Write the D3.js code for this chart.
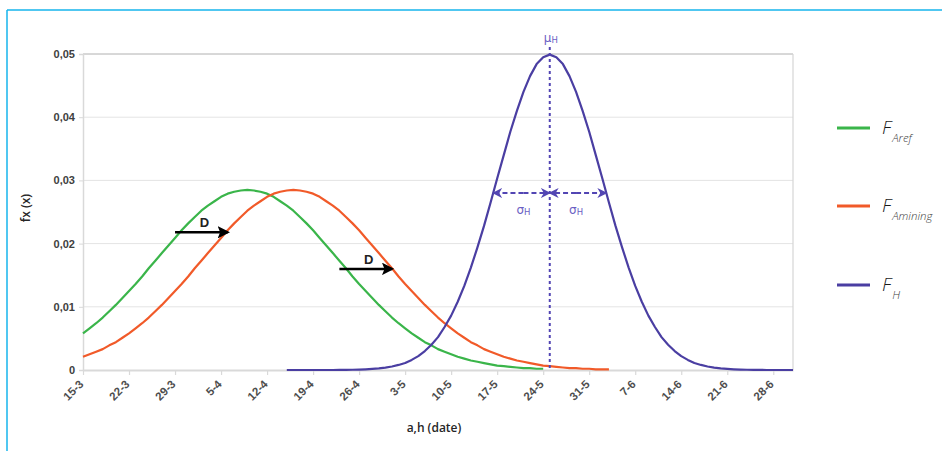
<!DOCTYPE html>
<html>
<head>
<meta charset="utf-8">
<script src="https://cdn.jsdelivr.net/npm/d3@7"></script>
<style>
  html, body { margin: 0; padding: 0; background: #fff; }
  svg { display: block; }
</style>
</head>
<body>
<svg id="chart" width="942" height="451"></svg>
<script>
// ---------- DATA ----------
const categories = [
  "15-3","16-3","17-3","18-3","19-3","20-3","21-3","22-3","23-3","24-3","25-3","26-3","27-3","28-3","29-3","30-3","31-3",
  "1-4","2-4","3-4","4-4","5-4","6-4","7-4","8-4","9-4","10-4","11-4","12-4","13-4","14-4","15-4","16-4","17-4","18-4","19-4","20-4",
  "21-4","22-4","23-4","24-4","25-4","26-4","27-4","28-4","29-4","30-4",
  "1-5","2-5","3-5","4-5","5-5","6-5","7-5","8-5","9-5","10-5","11-5","12-5","13-5","14-5","15-5","16-5","17-5","18-5","19-5","20-5",
  "21-5","22-5","23-5","24-5","25-5","26-5","27-5","28-5","29-5","30-5","31-5",
  "1-6","2-6","3-6","4-6","5-6","6-6","7-6","8-6","9-6","10-6","11-6","12-6","13-6","14-6","15-6","16-6","17-6","18-6","19-6","20-6",
  "21-6","22-6","23-6","24-6","25-6","26-6","27-6","28-6","29-6","30-6","1-7"
];
const tickLabels = ["15-3","22-3","29-3","5-4","12-4","19-4","26-4","3-5","10-5","17-5","24-5","31-5","7-6","14-6","21-6","28-6"];
const yTicks = [0, 0.01, 0.02, 0.03, 0.04, 0.05];

// F_Aref : starts at 15-3
const arefStart = "15-3";
const arefValues = [
  0.0058,0.0066,0.0074,0.0083,0.0093,0.0103,0.0114,0.0125,0.0136,0.0148,
  0.0161,0.0173,0.0185,0.0197,0.0209,0.0221,0.0232,0.0242,0.0252,0.0260,
  0.0267,0.0274,0.0279,0.0282,0.0284,0.0285,0.0284,0.0282,0.0279,0.0274,
  0.0267,0.0260,0.0252,0.0242,0.0232,0.0221,0.0209,0.0197,0.0185,0.0173,
  0.0161,0.0148,0.0136,0.0125,0.0114,0.0103,0.0093,0.0083,0.0074,0.0066,
  0.0058,0.0051,0.0044,0.0039,0.0033,0.0029,0.0025,0.0021,0.0018,0.0015,
  0.0013,0.0011,0.0009,0.0007,0.0006,0.0005,0.0004,0.0003,0.0003,0.0002,
  0.0002
];
// F_Amining : starts at 15-3
const aminingStart = "15-3";
const aminingValues = [
  0.0021,0.0025,0.0029,0.0033,0.0039,0.0044,0.0051,0.0058,0.0066,0.0074,
  0.0083,0.0093,0.0103,0.0114,0.0125,0.0136,0.0148,0.0161,0.0173,0.0185,
  0.0197,0.0209,0.0221,0.0232,0.0242,0.0252,0.0260,0.0267,0.0274,0.0279,
  0.0282,0.0284,0.0285,0.0284,0.0282,0.0279,0.0274,0.0267,0.0260,0.0252,
  0.0242,0.0232,0.0221,0.0209,0.0197,0.0185,0.0173,0.0161,0.0148,0.0136,
  0.0125,0.0114,0.0103,0.0093,0.0083,0.0074,0.0066,0.0058,0.0051,0.0044,
  0.0039,0.0033,0.0029,0.0025,0.0021,0.0018,0.0015,0.0013,0.0011,0.0009,
  0.0007,0.0006,0.0005,0.0004,0.0003,0.0003,0.0002,0.0002,0.0001,0.0001,
  0.0001
];
// F_H : starts at 15-4
const hStart = "15-4";
const hValues = [
  0,0,0,0,0,0,0,0,0.00001,0.00002,
  0.00004,0.00007,0.00011,0.00017,0.00025,0.00038,0.00055,0.0008,0.0011,0.0016,
  0.0022,0.0030,0.0040,0.0052,0.0068,0.0086,0.0108,0.0133,0.0162,0.0194,
  0.0228,0.0265,0.0303,0.0340,0.0377,0.0410,0.0440,0.0465,0.0484,0.0495,
  0.0499,0.0495,0.0484,0.0465,0.0440,0.0410,0.0377,0.0340,0.0303,0.0265,
  0.0228,0.0194,0.0162,0.0133,0.0108,0.0086,0.0068,0.0052,0.0040,0.0030,
  0.0022,0.0016,0.0011,0.0008,0.00055,0.00038,0.00025,0.00017,0.00011,0.00007,
  0.00004,0.00002,0.00001,0,0,0,0,0
];
// annotations (in data units)
const muH = "25-5";
const sigmaDays = 8;
const sigmaLevel = 0.0280;
const dArrows = [
  { from: "29-3", to: "6-4", value: 0.0218 },
  { from: "23-4", to: "1-5", value: 0.0160 }
];

// ---------- LAYOUT ----------
const svg = d3.select("#chart");
const W = 942, H = 451;
const m = { left: 83, right: 793, top: 54, bottom: 370 };
const colors = { aref: "#3ab54a", amining: "#f15a29", h: "#4a3ea2" };
const annColor = "#5245b3";
const annText = "#6b5fc4";

const x = d3.scalePoint().domain(categories).range([m.left, m.right]).padding(0);
const y = d3.scaleLinear().domain([0, 0.05]).range([m.bottom, m.top]);
const xIdx = i => x(categories[0]) + i * x.step();

// outer frame (cyan)
svg.append("line").attr("x1", 7).attr("x2", W).attr("y1", 10).attr("y2", 10)
  .attr("stroke", "#16b4ec").attr("stroke-width", 1.5);
svg.append("line").attr("x1", 7).attr("x2", 7).attr("y1", 10).attr("y2", H)
  .attr("stroke", "#16b4ec").attr("stroke-width", 1.5);

// gridlines
svg.append("g").selectAll("line").data(yTicks.filter(d => d > 0)).join("line")
  .attr("x1", m.left).attr("x2", m.right)
  .attr("y1", d => y(d)).attr("y2", d => y(d))
  .attr("stroke", "#e4e4e4").attr("stroke-width", 1);

// plot frame
svg.append("line").attr("x1", m.left).attr("x2", m.right).attr("y1", m.top).attr("y2", m.top)
  .attr("stroke", "#bdbdbd").attr("stroke-width", 1.2);
svg.append("line").attr("x1", m.right).attr("x2", m.right).attr("y1", m.top).attr("y2", m.bottom)
  .attr("stroke", "#d6d6d6").attr("stroke-width", 1.2);

// y axis
const yAxis = d3.axisLeft(y).tickValues(yTicks).tickSize(4).tickPadding(4)
  .tickFormat(d => d === 0 ? "0" : d3.format(".2f")(d).replace(".", ","));
const gy = svg.append("g").attr("transform", `translate(${m.left},0)`).call(yAxis);
gy.select(".domain").attr("stroke", "#d9d9d9").attr("stroke-width", 1.5);
gy.selectAll(".tick line").attr("stroke", "#d9d9d9");
gy.selectAll("text").attr("fill", "#404040")
  .style("font-family", "'Liberation Sans', Arial, sans-serif")
  .style("font-size", "11px").style("font-weight", "bold");

// x axis
const xAxis = d3.axisBottom(x).tickValues(tickLabels).tickSize(5).tickSizeOuter(0);
const gx = svg.append("g").attr("transform", `translate(0,${m.bottom})`).call(xAxis);
gx.select(".domain").attr("stroke", "#d9d9d9").attr("stroke-width", 2);
gx.selectAll(".tick line").attr("stroke", "#d9d9d9").attr("stroke-width", 1.2);
gx.selectAll("text")
  .attr("y", null).attr("dy", "0.35em")
  .attr("text-anchor", "end")
  .attr("transform", "translate(-2,12) rotate(-45)")
  .attr("fill", "#4d4d4d")
  .style("font-family", "'Liberation Sans', Arial, sans-serif")
  .style("font-size", "11.5px").style("font-weight", "bold");

// axis titles
svg.append("text").attr("x", 434).attr("y", 432).attr("text-anchor", "middle")
  .attr("fill", "#262626")
  .style("font-family", "'Open Sans', sans-serif").style("font-size", "12px").style("font-weight", "600")
  .text("a,h (date)");
svg.append("text").attr("transform", "translate(30,208) rotate(-90)").attr("text-anchor", "middle")
  .attr("fill", "#262626")
  .style("font-family", "'Open Sans', sans-serif").style("font-size", "12px").style("font-weight", "600")
  .text("fx (x)");

// series
function seriesPoints(start, values) {
  const s = categories.indexOf(start);
  return values.map((v, k) => ({ c: categories[s + k], v }));
}
const line = d3.line().x(d => x(d.c)).y(d => y(d.v));
const series = [
  { key: "aref", pts: seriesPoints(arefStart, arefValues) },
  { key: "amining", pts: seriesPoints(aminingStart, aminingValues) },
  { key: "h", pts: seriesPoints(hStart, hValues) }
];
svg.append("g").selectAll("path").data(series).join("path")
  .attr("d", d => line(d.pts))
  .attr("fill", "none")
  .attr("stroke", d => colors[d.key])
  .attr("stroke-width", 2.2)
  .attr("stroke-linejoin", "round");

// markers
const defs = svg.append("defs");
defs.append("marker").attr("id", "arrBlack").attr("viewBox", "0 0 10 10")
  .attr("refX", 8).attr("refY", 5).attr("markerWidth", 5).attr("markerHeight", 5)
  .attr("markerUnits", "strokeWidth").attr("orient", "auto")
  .append("path").attr("d", "M0,0 L10,5 L0,10 L2,5 z").attr("fill", "#000");
defs.append("marker").attr("id", "arrPurple").attr("viewBox", "0 0 10 10")
  .attr("refX", 8).attr("refY", 5).attr("markerWidth", 5).attr("markerHeight", 5)
  .attr("markerUnits", "strokeWidth").attr("orient", "auto")
  .append("path").attr("d", "M0,0 L10,5 L0,10 L3,5 z").attr("fill", annColor);

// mu_H vertical dashed line
const muI = categories.indexOf(muH);
svg.append("line").attr("x1", x(muH)).attr("x2", x(muH)).attr("y1", 47).attr("y2", m.bottom)
  .attr("stroke", annColor).attr("stroke-width", 2).attr("stroke-dasharray", "3,3");
const muText = svg.append("text").attr("x", x(muH) + 1).attr("y", 42).attr("text-anchor", "middle")
  .attr("fill", annText)
  .style("font-family", "'DejaVu Sans', sans-serif").style("font-size", "12px");
muText.append("tspan").text("μ");
muText.append("tspan").attr("font-size", "8.5px").attr("dy", "1").text("H");

// sigma arrows
const sy = y(sigmaLevel);
[[muI, muI - sigmaDays], [muI, muI + sigmaDays]].forEach(([a, b]) => {
  [[a, b], [b, a]].forEach(([p, q]) => {
    svg.append("line")
      .attr("x1", (xIdx(p) + xIdx(q)) / 2).attr("x2", xIdx(q) + (q < p ? -3 : 3) * (p === muI ? 1 : -0.3))
      .attr("y1", sy).attr("y2", sy)
      .attr("stroke", annColor).attr("stroke-width", 2).attr("stroke-dasharray", "5,3")
      .attr("marker-end", "url(#arrPurple)");
  });
});
[muI - sigmaDays / 2, muI + sigmaDays / 2].forEach(i => {
  const t = svg.append("text").attr("x", xIdx(i)).attr("y", sy + 21).attr("text-anchor", "middle")
    .attr("fill", annText)
    .style("font-family", "'DejaVu Sans', sans-serif").style("font-size", "12px");
  t.append("tspan").text("σ");
  t.append("tspan").attr("font-size", "8.5px").attr("dy", "1").text("H");
});

// D arrows
dArrows.forEach(a => {
  svg.append("line").attr("x1", x(a.from)).attr("x2", x(a.to))
    .attr("y1", y(a.value)).attr("y2", y(a.value))
    .attr("stroke", "#000").attr("stroke-width", 2.5)
    .attr("marker-end", "url(#arrBlack)");
  svg.append("text").attr("x", (x(a.from) + x(a.to)) / 2 + 3).attr("y", y(a.value) - 5)
    .attr("text-anchor", "middle").attr("fill", "#222")
    .style("font-family", "'Liberation Sans', Arial, sans-serif")
    .style("font-size", "13px").style("font-weight", "bold")
    .text("D");
});

// legend
const legend = [
  { key: "aref", sub: "Aref", y: 128 },
  { key: "amining", sub: "Amining", y: 206 },
  { key: "h", sub: "H", y: 285 }
];
const lg = svg.append("g");
legend.forEach(l => {
  lg.append("line").attr("x1", 837).attr("x2", 870).attr("y1", l.y).attr("y2", l.y)
    .attr("stroke", colors[l.key]).attr("stroke-width", 3);
  const t = lg.append("text").attr("x", 882).attr("y", l.y + 6)
    .style("font-family", "'Open Sans', sans-serif").style("font-style", "italic")
    .style("font-weight", "300");
  t.append("tspan").attr("font-size", "19px").attr("fill", "#1a1a1a").text("F");
  t.append("tspan").attr("font-size", "11.5px").attr("fill", "#404040").attr("dy", "8").attr("dx", "1").text(l.sub);
});
</script>
</body>
</html>
